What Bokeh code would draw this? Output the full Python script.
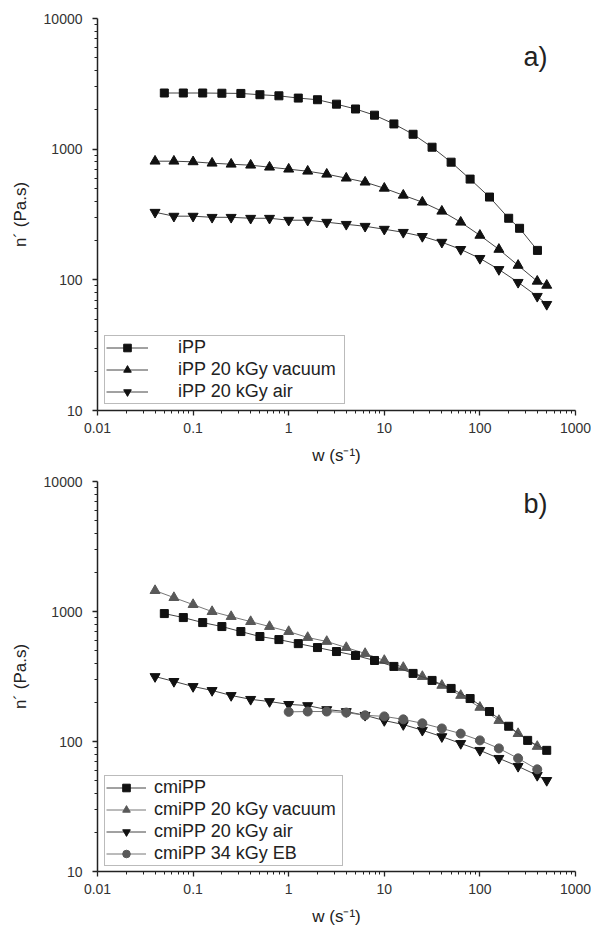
from bokeh.plotting import figure
from bokeh.models import (Range1d, CustomJSTickFormatter, Legend, LegendItem,
                          Label, FixedTicker)
from bokeh.layouts import column
from bokeh.embed import file_html
from bokeh.resources import INLINE

# ---------------- data ----------------
x_ticks = [0.01, 0.1, 1, 10, 100, 1000]
y_ticks = [10, 100, 1000, 10000]

# panel a)
w_ipp = [0.05, 0.079, 0.126, 0.2, 0.316, 0.5, 0.79, 1.26, 2.0, 3.16, 5.0, 7.9,
         12.6, 20, 31.6, 50, 79, 126, 200, 260, 400]
eta_ipp = [2690, 2690, 2690, 2680, 2670, 2610, 2560, 2460, 2390, 2210, 2030, 1820,
           1560, 1300, 1035, 795, 590, 430, 296, 248, 168]

w_ipp_vac = [0.04, 0.063, 0.1, 0.158, 0.25, 0.4, 0.63, 1.0, 1.58, 2.5, 4.0, 6.3,
             10, 15.8, 25, 40, 63, 100, 158, 251, 398, 500]
eta_ipp_vac = [809, 809, 800, 781, 767, 754, 728, 703, 678, 643, 600, 559,
               502, 444, 393, 335, 276, 219, 171, 129, 97.5, 90.8]

w_ipp_air = [0.04, 0.063, 0.1, 0.158, 0.25, 0.4, 0.63, 1.0, 1.58, 2.5, 4.0, 6.3,
             10, 15.8, 25, 40, 63, 100, 158, 251, 398, 500]
eta_ipp_air = [329, 307, 307, 301, 301, 296, 296, 286, 286, 276, 266, 257,
               244, 231, 215, 194, 171, 146, 120, 95.7, 74.8, 64.9]

# panel b)
w_cm = [0.05, 0.079, 0.126, 0.2, 0.316, 0.5, 0.79, 1.26, 2.0, 3.16, 5.0, 7.9,
        12.6, 20, 31.6, 50, 79, 126, 200, 316, 500]
eta_cm = [964, 898, 822, 766, 701, 642, 608, 566, 528, 492, 459, 420,
          378, 334, 295, 256, 214, 170, 131, 102, 85.5]

w_cm_vac = [0.04, 0.063, 0.1, 0.158, 0.25, 0.4, 0.63, 1.0, 1.58, 2.5, 4.0, 6.3,
            10, 15.8, 25, 40, 63, 100, 158, 251, 398]
eta_cm_vac = [1448, 1279, 1130, 998, 914, 836, 766, 701, 631, 588, 528, 475,
              420, 371, 316, 270, 226, 183, 145, 115, 91.6]

w_cm_air = [0.04, 0.063, 0.1, 0.158, 0.25, 0.4, 0.63, 1.0, 1.58, 2.5, 4.0, 6.3,
            10, 15.8, 25, 40, 63, 100, 158, 251, 398, 500]
eta_cm_air = [316, 290, 265, 247, 226, 211, 203, 193, 189, 176, 170, 159,
              145, 135, 122, 109, 96.6, 85.5, 74.2, 64.4, 54.9, 50.2]

w_cm_eb = [1.0, 1.58, 2.5, 4.0, 6.3, 10, 15.8, 25, 40, 63, 100, 158, 251, 398]
eta_cm_eb = [169, 170, 170, 167, 159, 156, 148, 138, 126, 115, 102, 88.5, 74.2, 61.1]

FONT = "Liberation Sans"
BLACK = "#111111"
GRAY = "#595959"
LINE_BLACK = "#444444"
LINE_GRAY = "#777777"


def make_fig(frame_h, top_b, bottom_b):
    p = figure(x_axis_type="log", y_axis_type="log",
               x_range=Range1d(x_ticks[0], x_ticks[-1]),
               y_range=Range1d(y_ticks[0], y_ticks[-1]),
               frame_width=478, frame_height=frame_h,
               min_border_left=97, min_border_right=16,
               min_border_top=top_b, min_border_bottom=bottom_b,
               output_backend="svg", toolbar_location=None)
    p.outline_line_color = None
    p.xgrid.visible = False
    p.ygrid.visible = False
    fmt = "return tick < 1 ? String(tick) : tick.toFixed(0);"
    p.xaxis.ticker = FixedTicker(
        ticks=x_ticks,
        minor_ticks=[t * m for t in x_ticks[:-1] for m in range(2, 10)])
    p.yaxis.ticker = FixedTicker(
        ticks=y_ticks,
        minor_ticks=[t * m for t in y_ticks[:-1] for m in range(2, 10)])
    for ax in (p.xaxis[0], p.yaxis[0]):
        ax.formatter = CustomJSTickFormatter(code=fmt)
        ax.axis_line_color = "#222222"
        ax.axis_line_width = 1.5
        ax.major_tick_line_color = "#222222"
        ax.minor_tick_line_color = "#222222"
        ax.major_tick_line_width = 1.3
        ax.major_tick_out = 5
        ax.major_tick_in = 0
        ax.minor_tick_out = 3
        ax.minor_tick_in = 0
        ax.major_label_text_font = FONT
        ax.major_label_text_font_size = "14px"
        ax.major_label_text_color = "#333333"
        ax.axis_label_text_font = FONT
        ax.axis_label_text_font_size = "17px"
        ax.axis_label_text_font_style = "normal"
        ax.axis_label_text_color = "#222222"
    p.xaxis.major_label_standoff = 7
    p.xaxis.axis_label_standoff = 10
    p.yaxis.major_label_standoff = 10
    p.yaxis.axis_label_standoff = 11
    p.xaxis.axis_label = "w (s\u207b\u00b9)"
    p.yaxis.axis_label = "n\u00b4 (Pa.s)"
    return p


def series(p, x, y, marker, color, lcolor, size):
    l = p.line(x, y, line_color=lcolor, line_width=1)
    s = p.scatter(x, y, marker=marker, size=size, fill_color=color,
                  line_color=color)
    return [l, s]


def style_legend(lg, standoff, glyph_w, label_w):
    lg.border_line_color = "#777777"
    lg.border_line_width = 1
    lg.background_fill_color = "white"
    lg.background_fill_alpha = 1
    lg.label_text_font = FONT
    lg.label_text_font_size = "18px"
    lg.label_text_color = "#222222"
    lg.glyph_width = glyph_w
    lg.glyph_height = 19
    lg.label_height = 19
    lg.label_standoff = standoff
    lg.label_width = label_w
    lg.padding = 1
    lg.spacing = 1
    lg.margin = 0


# ---------------- panel a ----------------
p1 = make_fig(392, 18, 58)
r_ipp = series(p1, w_ipp, eta_ipp, "square", BLACK, LINE_BLACK, 8)
r_vac = series(p1, w_ipp_vac, eta_ipp_vac, "triangle", BLACK, LINE_BLACK, 10)
r_air = series(p1, w_ipp_air, eta_ipp_air, "inverted_triangle", BLACK, LINE_BLACK, 10)
lg1 = Legend(items=[LegendItem(label="iPP", renderers=r_ipp),
                    LegendItem(label="iPP 20 kGy vacuum", renderers=r_vac),
                    LegendItem(label="iPP 20 kGy air", renderers=r_air)],
             location=(7, 6))
style_legend(lg1, 30, 42, 165)
p1.add_layout(lg1)
p1.add_layout(Label(x=426, y=354, x_units="screen", y_units="screen",
                    text="a)", text_font=FONT, text_font_size="27px",
                    text_color="#222222", text_baseline="alphabetic"))

# ---------------- panel b ----------------
p2 = make_fig(390, 13, 58)
r_cvac = series(p2, w_cm_vac, eta_cm_vac, "triangle", GRAY, LINE_GRAY, 10)
r_cm = series(p2, w_cm, eta_cm, "square", BLACK, LINE_BLACK, 8)
r_cair = series(p2, w_cm_air, eta_cm_air, "inverted_triangle", BLACK, LINE_BLACK, 10)
r_ceb = series(p2, w_cm_eb, eta_cm_eb, "circle", GRAY, LINE_GRAY, 9)
lg2 = Legend(items=[LegendItem(label="cmiPP", renderers=r_cm),
                    LegendItem(label="cmiPP 20 kGy vacuum", renderers=r_cvac),
                    LegendItem(label="cmiPP 20 kGy air", renderers=r_cair),
                    LegendItem(label="cmiPP 34 kGy EB", renderers=r_ceb)],
             location=(7, 5))
style_legend(lg2, 8, 40, 187)
p2.add_layout(lg2)
p2.add_layout(Label(x=426, y=368, x_units="screen", y_units="screen",
                    text="b)", text_font=FONT, text_font_size="27px",
                    text_color="#222222", text_baseline="alphabetic"))

layout = column(p1, p2, spacing=0)
open("out.html", "w").write(file_html(layout, INLINE))
